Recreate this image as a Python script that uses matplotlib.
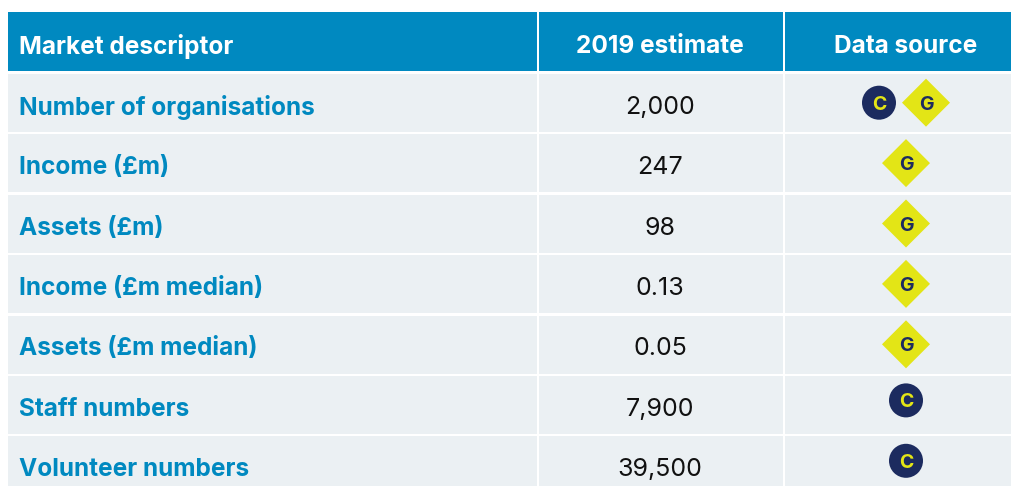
import matplotlib
matplotlib.use("Agg")
import matplotlib.pyplot as plt
from matplotlib.patches import Rectangle, Circle, Polygon

plt.rcParams["font.family"] = ["Inter", "Lato", "DejaVu Sans"]

# table content
headers = ["Market descriptor", "2019 estimate", "Data source"]
descriptors = [
    "Number of organisations",
    "Income (£m)",
    "Assets (£m)",
    "Income (£m median)",
    "Assets (£m median)",
    "Staff numbers",
    "Volunteer numbers",
]
estimates = ["2,000", "247", "98", "0.13", "0.05", "7,900", "39,500"]
sources = [["C", "G"], ["G"], ["G"], ["G"], ["G"], ["C"], ["C"]]

BLUE = "#0089c0"
ROW_BG = "#ebf0f3"
NAVY = "#1c2b5f"
LIME = "#e3e516"

W, H = 1012, 486
col_edges = [8, 538, 784, 1013]
header_top, header_bottom = 12, 71
row_top = 74
row_pitch = 60.4
row_h = 58
text_x = 19.5
est_x = 660
src_x = 906

fig = plt.figure(figsize=(W / 100, H / 100), dpi=100)
ax = fig.add_axes([0, 0, 1, 1])
ax.set_xlim(0, W)
ax.set_ylim(H, 0)
ax.axis("off")


def draw_c(x, y):
    ax.add_patch(Circle((x, y), 17, fc=NAVY, ec="none"))
    ax.text(x, y, "C", color=LIME, fontsize=14, fontweight="bold",
            ha="center", va="center_baseline")


def draw_g(x, y):
    r = 24
    ax.add_patch(Polygon([(x - r, y), (x, y - r), (x + r, y), (x, y + r)],
                         closed=True, fc=LIME, ec="none"))
    ax.text(x, y, "G", color=NAVY, fontsize=14, fontweight="bold",
            ha="center", va="center_baseline")


# header
for i in range(3):
    x0 = col_edges[i] + (1 if i else 0)
    x1 = col_edges[i + 1] - 1
    ax.add_patch(Rectangle((x0, header_top), x1 - x0, header_bottom - header_top,
                           fc=BLUE, ec="none"))
for x, ha, label in zip([text_x, est_x, src_x], ["left", "center", "center"], headers):
    ax.text(x, 44, label, color="white", fontsize=17.6, fontweight="bold",
            ha=ha, va="center_baseline")

# body rows
for r, (desc, est, src) in enumerate(zip(descriptors, estimates, sources)):
    top = row_top + r * row_pitch
    mid = top + 30.8
    for i in range(3):
        x0 = col_edges[i] + (1 if i else 0)
        x1 = col_edges[i + 1] - 1
        ax.add_patch(Rectangle((x0, top), x1 - x0, row_h, fc=ROW_BG, ec="none"))
    ax.text(text_x, mid, desc, color=BLUE, fontsize=17.6, fontweight="bold",
            ha="left", va="center_baseline")
    ax.text(est_x, mid, est, color="#111111", fontsize=18,
            ha="center", va="center_baseline")
    icon_y = top + 28.7
    if len(src) == 2:
        draw_c(src_x - 27, icon_y)
        draw_g(src_x + 20, icon_y)
    elif src[0] == "G":
        draw_g(src_x, icon_y)
    else:
        # the lone C badges sit a little higher in their rows
        draw_c(src_x, icon_y - 4.3)

fig.savefig("out.png", dpi=100, facecolor="white")
